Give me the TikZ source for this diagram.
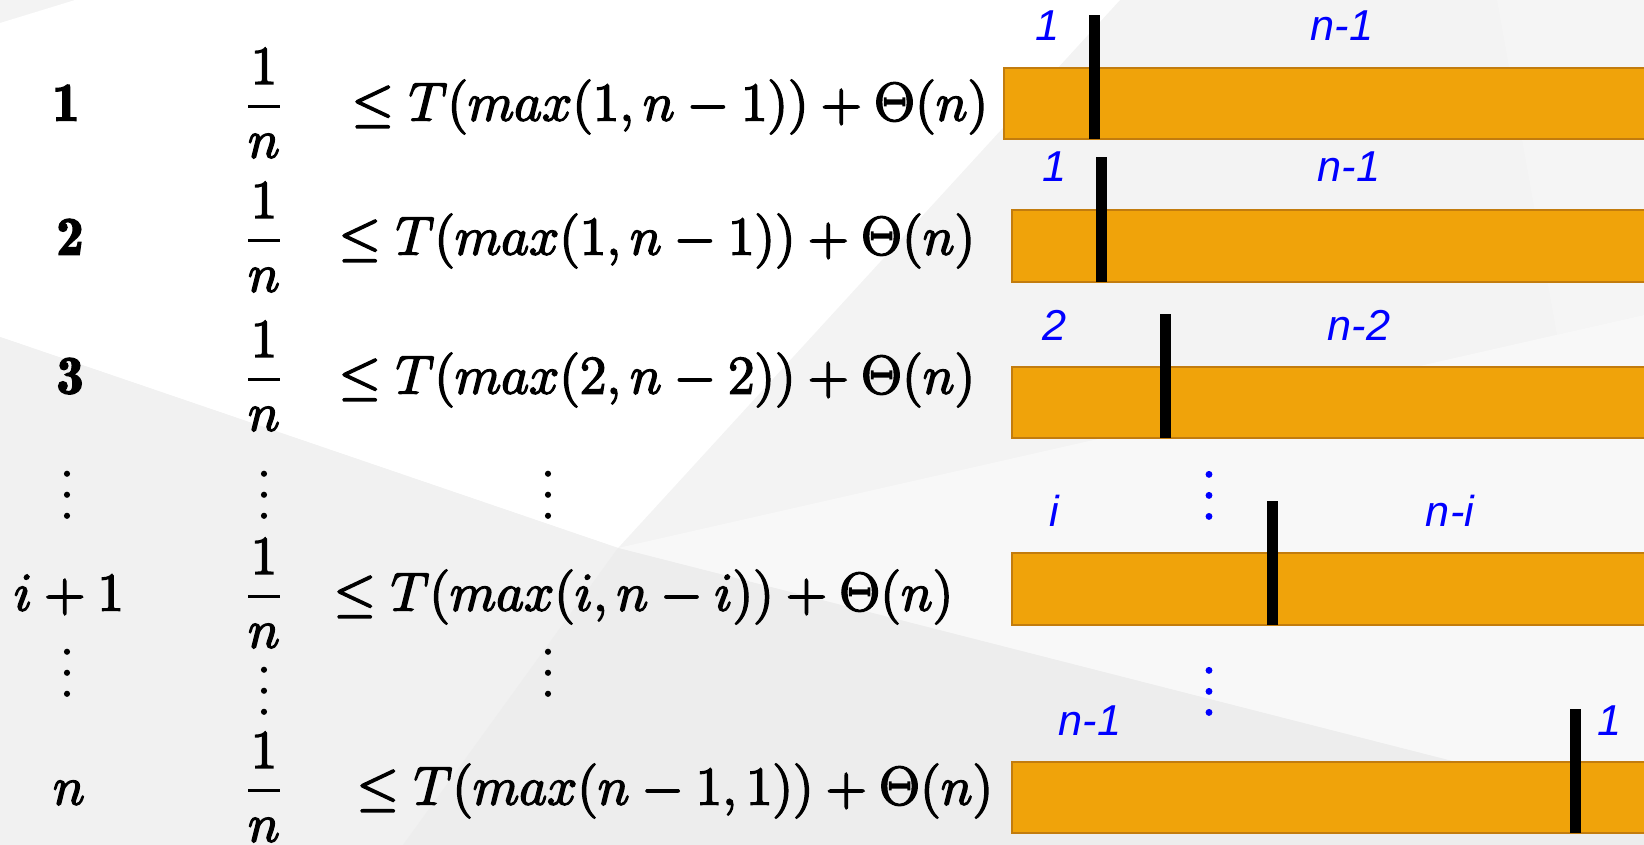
\RequirePackage{fix-cm}
\documentclass[tikz,border=0pt]{standalone}
\usepackage{fontspec}
\newfontfamily\labfont{Liberation Sans}
\definecolor{bgA}{HTML}{F3F3F3}
\definecolor{bgB}{HTML}{F5F5F5}
\definecolor{bgC}{HTML}{F8F8F8}
\definecolor{bgD}{HTML}{F1F1F1}
\definecolor{bgE}{HTML}{EDEDED}
\definecolor{barfill}{HTML}{F0A30A}
\definecolor{barline}{HTML}{C27C0E}
\definecolor{labblue}{HTML}{0000FF}
\newcommand\heavy{\special{pdf:literal direct 2 Tr 0.45 w}}
\newcommand\myvd{\heavy\vbox{\baselineskip=0.21cm\lineskiplimit=-1cm\hbox{.}\hbox{.}\hbox{.}}}
\newcommand\fr{\displaystyle{1\above 0.85pt n}}
\begin{document}
\begin{tikzpicture}[x=0.01cm,y=-0.01cm,
  mathtxt/.style={inner sep=0pt, font=\fontsize{15.4}{18}\selectfont},
  dotcol/.style={inner sep=0pt, anchor=base, font=\fontsize{15.4}{18}\selectfont},
  bluedots/.style={inner sep=0pt, anchor=base, text=labblue, font=\fontsize{18}{20}\selectfont},
  lab/.style={inner sep=0pt, text=labblue, font=\labfont\itshape\fontsize{12.3}{14}\selectfont},
  bar/.style={fill=barfill, draw=barline, line width=0.57pt},
  tickmark/.style={fill=black}]
\clip (0,0) rectangle (1644,845);
\useasboundingbox (0,0) rectangle (1644,845);
% background
\coordinate (P) at (618,548);
\fill[bgA] (0,0) rectangle (1644,845);
\fill[bgB] (1497,0) -- (1644,0) -- (1644,315) -- (1557,335) -- cycle;
\fill[white] (0,23) -- (75,0) -- (1120,0) -- (P) -- (0,337) -- cycle;
\fill[bgC] (P) -- (1644,315) -- (1644,810) -- cycle;
\fill[bgD] (0,337) -- (P) -- (403,845) -- (0,845) -- cycle;
\fill[bgE] (P) -- (1644,810) -- (1644,845) -- (403,845) -- cycle;

% left column
\node[mathtxt, anchor=base] (r1) at (66,120.5) {\heavy$\mathbf{1}$};
\node[mathtxt, anchor=base] (r2) at (70,254.5) {\heavy$\mathbf{2}$};
\node[mathtxt, anchor=base] (r3) at (70,393.5) {\heavy$\mathbf{3}$};
\node[mathtxt, anchor=base] (r4) at (69,610.5) {\heavy$i+1$};
\node[mathtxt, anchor=base] (r5) at (69,804.5) {\heavy$n$};
\node[dotcol] (v1a) at (67,518) {\myvd};
\node[dotcol] (v1b) at (67,696) {\myvd};

% fractions
\node[mathtxt, anchor=base] (f1) at (264,120.5) {\heavy$\fr$};
\node[mathtxt, anchor=base] (f2) at (264,254.5) {\heavy$\fr$};
\node[mathtxt, anchor=base] (f3) at (264,393.5) {\heavy$\fr$};
\node[mathtxt, anchor=base] (f4) at (264,610.5) {\heavy$\fr$};
\node[mathtxt, anchor=base] (f5) at (264,804.5) {\heavy$\fr$};
\node[dotcol] (v2a) at (264,518) {\myvd};
\node[dotcol] (v2b) at (264,714) {\myvd};

% expressions
\node[mathtxt, anchor=base west] (e1) at (351,120.5) {\heavy$\leq T(max(1,n-1))+\Theta(n)$};
\node[mathtxt, anchor=base west] (e2) at (338,254.5) {\heavy$\leq T(max(1,n-1))+\Theta(n)$};
\node[mathtxt, anchor=base west] (e3) at (338,393.5) {\heavy$\leq T(max(2,n-2))+\Theta(n)$};
\node[mathtxt, anchor=base west] (e4) at (333,610.5) {\heavy$\leq T(max(i,n-i))+\Theta(n)$};
\node[mathtxt, anchor=base west] (e5) at (356,804.5) {\heavy$\leq T(max(n-1,1))+\Theta(n)$};
\node[dotcol] (v3a) at (548,518) {\myvd};
\node[dotcol] (v3b) at (548,696) {\myvd};

% bars
\draw[bar] (1004,68) rectangle (1680,139);
\draw[bar] (1012,210) rectangle (1680,282);
\draw[bar] (1012,367) rectangle (1680,438);
\draw[bar] (1012,553) rectangle (1680,625);
\draw[bar] (1012,762) rectangle (1680,833);
% split marks
\fill[tickmark] (1088.5,15) rectangle (1099.5,139);
\fill[tickmark] (1095.5,157) rectangle (1106.5,282);
\fill[tickmark] (1159.5,314) rectangle (1170.5,438);
\fill[tickmark] (1266.5,501) rectangle (1277.5,625);
\fill[tickmark] (1569.5,709) rectangle (1580.5,833);

% labels
\node[lab] (a1) at (1048,26) {1};
\node[lab] (b1) at (1342,26) {n-1};
\node[lab] (a2) at (1055,167) {1};
\node[lab] (b2) at (1349,167) {n-1};
\node[lab] (a3) at (1055,325) {2};
\node[lab] (b3) at (1359,325) {n-2};
\node[lab] (a4) at (1054,511) {i};
\node[lab] (b4) at (1450,511) {n-i};
\node[lab] (a5) at (1090,721) {n-1};
\node[lab] (b5) at (1610,721) {1};
\node[bluedots] (bd1) at (1209,519) {\myvd};
\node[bluedots] (bd2) at (1209,715) {\myvd};
\end{tikzpicture}
\end{document}
